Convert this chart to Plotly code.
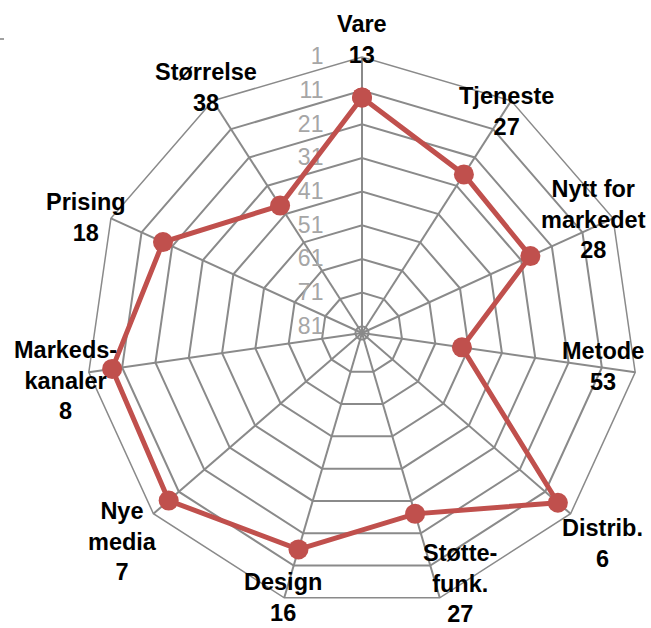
import plotly.graph_objects as go

categories = ["Vare", "Tjeneste", "Nytt for markedet", "Metode", "Distrib.",
              "Støtte-funk.", "Design", "Nye media", "Markeds-kanaler", "Prising", "Størrelse"]
label_lines = ["Vare", "Tjeneste", "Nytt for<br>markedet", "Metode", "Distrib.",
               "Støtte-<br>funk.", "Design", "Nye<br>media", "Markeds-<br>kanaler", "Prising", "Størrelse"]
values = [13, 27, 28, 53, 6, 27, 16, 7, 8, 18, 38]
tick_vals = [1, 11, 21, 31, 41, 51, 61, 71, 81]
radial_range = [83, 1]

# label block centres (pixels in the 651x628 picture)
label_pos = [(362, 39), (506, 111), (593, 220), (603, 366), (602, 543),
             (460, 583), (283, 597), (123, 541), (65, 380), (86, 217), (206, 87)]

W, H = 651, 628
RED = "#c0504d"
GRID = "#8a8a8a"

fig = go.Figure()
fig.add_trace(go.Scatterpolar(
    r=values + values[:1],
    theta=categories + categories[:1],
    mode="lines+markers",
    line=dict(color=RED, width=5),
    marker=dict(color=RED, size=20),
    hoverinfo="skip",
    showlegend=False,
))

# polar area: centre (362,333), radius 276
cx, cy, rad = 362, 333, 276
fig.update_layout(
    width=W, height=H,
    margin=dict(l=0, r=0, t=0, b=0),
    paper_bgcolor="white",
    font=dict(family="Liberation Sans, Arial, sans-serif"),
    polar=dict(
        domain=dict(x=[(cx - rad) / W, (cx + rad) / W],
                    y=[1 - (cy + rad) / H, 1 - (cy - rad) / H]),
        bgcolor="white",
        gridshape="linear",
        angularaxis=dict(
            rotation=90, direction="clockwise",
            showticklabels=False, ticks="",
            showgrid=True, gridcolor=GRID, gridwidth=1.5,
            showline=True, linecolor=GRID, linewidth=1.5,
        ),
        radialaxis=dict(
            range=radial_range,
            tickvals=tick_vals,
            ticktext=[str(t) for t in tick_vals],
            angle=90, tickangle=90, side="counterclockwise",
            ticks="outside", ticklen=30, tickcolor="rgba(0,0,0,0)",
            showline=False,
            showgrid=True, gridcolor=GRID, gridwidth=1.5,
            tickfont=dict(size=23, color="#a6a6a6"),
            layer="below traces",
        ),
    ),
)

for lab, val, (px, py) in zip(label_lines, values, label_pos):
    fig.add_annotation(
        x=px / W, y=1 - py / H, xref="paper", yref="paper",
        text=f"<b>{lab}<br>{val}</b>", showarrow=False,
        xanchor="center", yanchor="middle", align="center",
        font=dict(size=23.5, color="black", family="Liberation Sans, Arial, sans-serif"),
    )

# small grey mark at top-left corner
fig.add_shape(type="line", xref="paper", yref="paper",
              x0=0, x1=4 / W, y0=1 - 39 / H, y1=1 - 39 / H,
              line=dict(color="#a0a0a0", width=2))

fig.write_html("out.html", config={"displayModeBar": False},
               post_script="document.body.style.margin='0';")
